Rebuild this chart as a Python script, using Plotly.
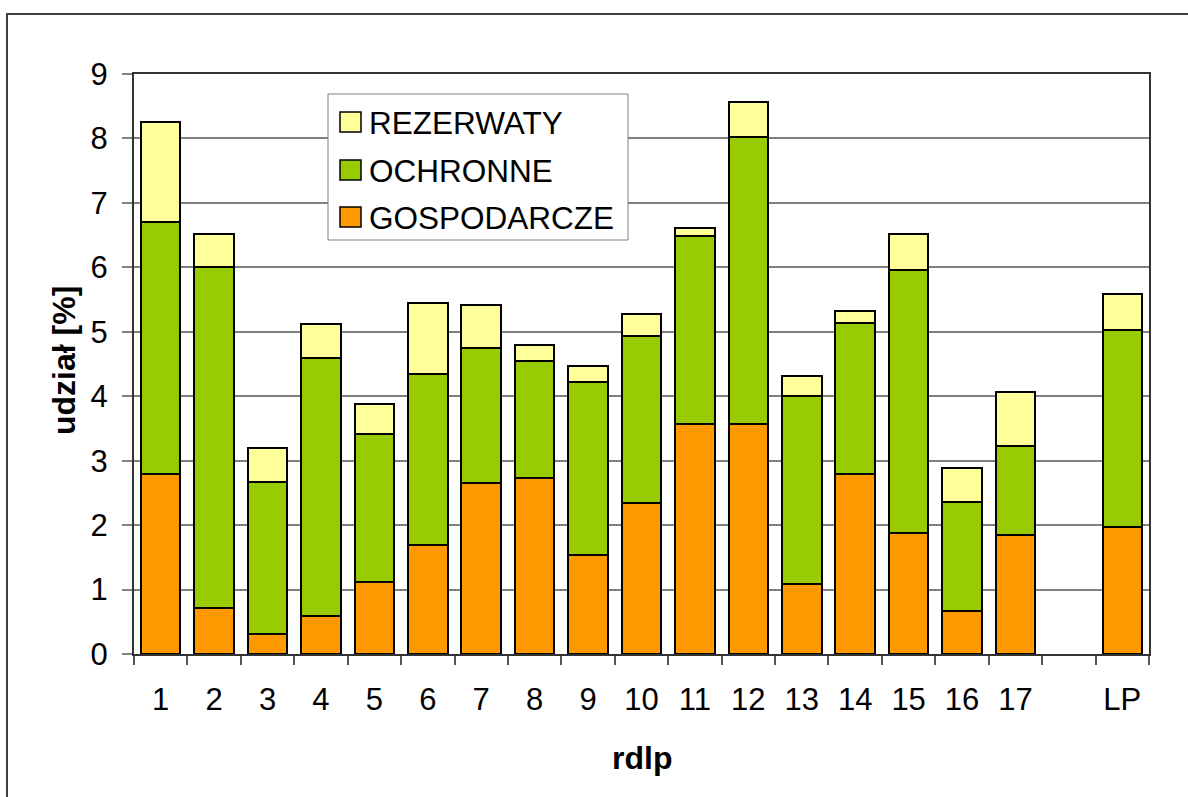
import plotly.graph_objects as go

# Udział powierzchni lasów wg kategorii w poszczególnych RDLP [%]
rdlp = ["1", "2", "3", "4", "5", "6", "7", "8", "9", "10",
        "11", "12", "13", "14", "15", "16", "17", " ", "LP"]
gospodarcze = [2.80, 0.72, 0.31, 0.59, 1.12, 1.69, 2.65, 2.73, 1.54, 2.34,
               3.57, 3.57, 1.09, 2.79, 1.87, 0.66, 1.85, None, 1.97]
ochronne = [3.91, 5.28, 2.36, 4.01, 2.29, 2.65, 2.10, 1.81, 2.68, 2.60,
            2.91, 4.46, 2.91, 2.34, 4.09, 1.70, 1.37, None, 3.06]
rezerwaty = [1.54, 0.51, 0.52, 0.52, 0.47, 1.10, 0.66, 0.25, 0.25, 0.34,
             0.13, 0.54, 0.31, 0.19, 0.55, 0.52, 0.85, None, 0.56]

series_names = ["GOSPODARCZE", "OCHRONNE", "REZERWATY"]
series_colors = ["#FF9900", "#99CC00", "#FFFF99"]
y_ticks = [0, 1, 2, 3, 4, 5, 6, 7, 8, 9]

W, H = 1188, 797
ML, MR, MT, MB = 134, 39, 74, 143
PW, PH = W - ML - MR, H - MT - MB
FONT = "Arial, Liberation Sans, sans-serif"


def px_x(px):
    return (px - ML) / PW


def px_y(py):
    return (H - MB - py) / PH


fig = go.Figure()
for name, vals, color in zip(series_names, [gospodarcze, ochronne, rezerwaty], series_colors):
    fig.add_trace(go.Bar(
        x=rdlp, y=vals, name=name,
        marker=dict(color=color, line=dict(color="#000000", width=2)),
        showlegend=False,
    ))

shapes = []
annotations = []

# outer chart frame (top and left edges)
shapes.append(dict(type="path", xref="paper", yref="paper",
                   path=f"M {px_x(1300)},{px_y(14)} L {px_x(7)},{px_y(14)} L {px_x(7)},{px_y(820)}",
                   line=dict(color="#404040", width=2)))

# legend box
shapes.append(dict(type="rect", xref="paper", yref="paper",
                   x0=px_x(328), x1=px_x(628), y0=px_y(240), y1=px_y(94),
                   line=dict(color="#808080", width=1), fillcolor="white", layer="above"))

legend_rows = [("REZERWATY", "#FFFF99", 122), ("OCHRONNE", "#99CC00", 170), ("GOSPODARCZE", "#FF9900", 217)]
for label, color, cy in legend_rows:
    shapes.append(dict(type="rect", xref="paper", yref="paper",
                       x0=px_x(340), x1=px_x(361), y0=px_y(cy + 10), y1=px_y(cy - 10),
                       line=dict(color="#000000", width=1.5), fillcolor=color, layer="above"))
    annotations.append(dict(text=label, xref="paper", yref="paper",
                            x=px_x(367), y=px_y(cy + 1), xanchor="left", yanchor="middle",
                            showarrow=False, font=dict(family=FONT, size=31.5, color="#000000")))

# axis titles
annotations.append(dict(text="<b>udział [%]</b>", xref="paper", yref="paper",
                        x=px_x(64), y=px_y(361), xanchor="center", yanchor="middle",
                        textangle=-90, showarrow=False,
                        font=dict(family=FONT, size=32, color="#000000")))
annotations.append(dict(text="<b>rdlp</b>", xref="paper", yref="paper",
                        x=0.5, y=px_y(758), xanchor="center", yanchor="middle",
                        showarrow=False, font=dict(family=FONT, size=32, color="#000000")))

fig.update_layout(
    width=W, height=H,
    margin=dict(l=ML, r=MR, t=MT, b=MB, autoexpand=False),
    barmode="stack", bargap=0.26,
    plot_bgcolor="white", paper_bgcolor="white",
    font=dict(family=FONT, size=31, color="#000000"),
    shapes=shapes, annotations=annotations,
    showlegend=False,
)
fig.update_xaxes(
    type="category", categoryorder="array", categoryarray=rdlp,
    range=[-0.5, len(rdlp) - 0.5],
    showline=True, linecolor="#333333", linewidth=2, mirror=True,
    ticks="outside", tickson="boundaries", ticklen=9, tickcolor="#555555", tickwidth=1.5,
    ticklabelstandoff=17,
    tickfont=dict(family=FONT, size=31, color="#000000"),
    showgrid=False, zeroline=False, fixedrange=True,
)
fig.update_yaxes(
    range=[0, 9], tickvals=y_ticks,
    showline=True, linecolor="#333333", linewidth=2, mirror=True,
    ticks="outside", ticklen=10, tickcolor="#808080", tickwidth=1.5,
    ticklabelstandoff=8,
    tickfont=dict(family=FONT, size=31, color="#000000"),
    showgrid=True, gridcolor="#808080", gridwidth=1.5, zeroline=False, fixedrange=True,
)

fig.write_html("out.html")
